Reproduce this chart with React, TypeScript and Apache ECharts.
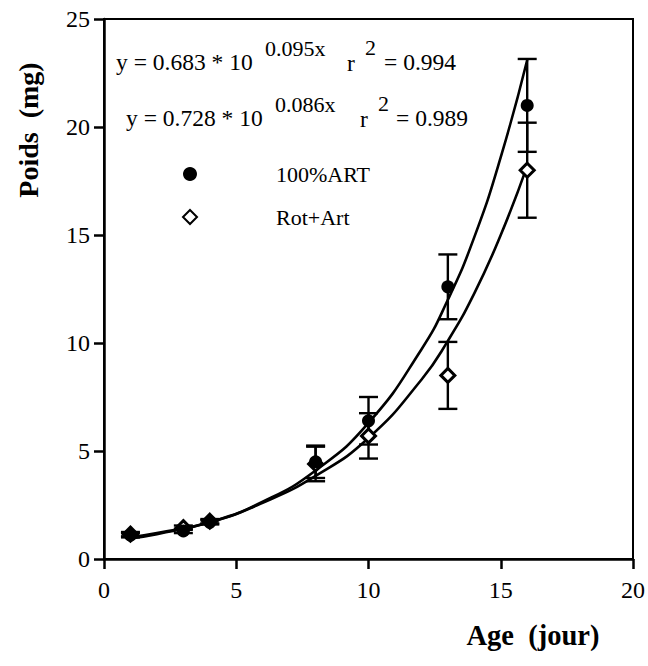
import React, { useEffect, useRef } from "react";
import * as echarts from "echarts";

// Measured points (Age in days, weight in mg)
const ages = [1, 3, 4, 8, 10, 13, 16];
const artMeans = [1.1, 1.3, 1.7, 4.5, 6.4, 12.6, 21.0];
const artErr = [0.1, 0.1, 0.1, 0.75, 1.1, 1.5, 2.15];
const rotMeans = [1.15, 1.45, 1.75, 4.4, 5.7, 8.5, 18.0];
const rotErr = [0.1, 0.1, 0.1, 0.8, 1.05, 1.55, 2.2];

// Fitted curves
const curveX = [1, 2, 4, 6, 8, 10, 12, 13, 14, 15, 16];
const artCurve = [0.95, 1.15, 1.7, 2.65, 4.1, 6.3, 9.7, 12.0, 14.9, 18.6, 23.1];
const rotCurve = [1.0, 1.2, 1.7, 2.6, 3.85, 5.6, 8.3, 10.1, 12.3, 15.0, 18.2];

const xTicks = [0, 5, 10, 15, 20];
const yTicks = [0, 5, 10, 15, 20, 25];

const SERIF = "Liberation Serif";

export default function App() {
  const ref = useRef<HTMLDivElement>(null);
  useEffect(() => {
    if (!ref.current) return;
    const chart = echarts.init(ref.current, null, { renderer: "svg" });
    const errData = (means: number[], errs: number[]) =>
      ages.map((a, i) => [a, means[i] - errs[i], means[i] + errs[i]]);
    const renderErr = (params: any, api: any) => {
      const x = api.value(0);
      const lo = api.coord([x, api.value(1)]);
      const hi = api.coord([x, api.value(2)]);
      const w = 9.5;
      const st = { stroke: "#000", lineWidth: 2.4 };
      return {
        type: "group",
        children: [
          { type: "line", shape: { x1: lo[0], y1: lo[1], x2: hi[0], y2: hi[1] }, style: st },
          { type: "line", shape: { x1: lo[0] - w, y1: lo[1], x2: lo[0] + w, y2: lo[1] }, style: st },
          { type: "line", shape: { x1: hi[0] - w, y1: hi[1], x2: hi[0] + w, y2: hi[1] }, style: st },
        ],
      };
    };
    const txt = (text: string, x: number, y: number, size: number) => ({
      type: "text",
      x,
      y,
      style: {
        text,
        fontSize: size,
        fontFamily: SERIF,
        fill: "#000",
        verticalAlign: "middle",
      },
    });
    chart.setOption({
      animation: false,
      grid: {
        left: 104,
        top: 19,
        width: 533,
        height: 540,
        show: true,
        borderColor: "#000",
        borderWidth: 2,
        backgroundColor: "transparent",
      },
      xAxis: {
        type: "value",
        min: xTicks[0],
        max: xTicks[xTicks.length - 1],
        interval: 5,
        axisLine: { onZero: false, lineStyle: { color: "#000", width: 2.5 } },
        axisTick: { length: 10, lineStyle: { color: "#000", width: 2.5 } },
        axisLabel: { fontSize: 24, fontFamily: SERIF, color: "#000", margin: 19 },
        splitLine: { show: false },
      },
      yAxis: {
        type: "value",
        min: yTicks[0],
        max: yTicks[yTicks.length - 1],
        interval: 5,
        axisLine: { onZero: false, lineStyle: { color: "#000", width: 2.5 } },
        axisTick: { length: 10, lineStyle: { color: "#000", width: 2.5 } },
        axisLabel: { fontSize: 24, fontFamily: SERIF, color: "#000", margin: 14 },
        splitLine: { show: false },
      },
      legend: {
        data: ["100%ART", "Rot+Art"],
        orient: "vertical",
        left: 177,
        top: 158,
        itemWidth: 14,
        itemHeight: 14,
        itemGap: 21,
        textStyle: {
          fontSize: 22,
          fontFamily: SERIF,
          color: "#000",
          lineHeight: 20,
          padding: [0, 0, 0, 74],
        },
      },
      graphic: [
        txt("y = 0.683 * 10", 116, 62, 23.5),
        txt("0.095x", 265, 48, 22),
        txt("r", 347, 63, 23.5),
        txt("2", 365, 47, 22),
        txt("= 0.994", 384, 62, 23.5),
        txt("y = 0.728 * 10", 126, 118, 23.5),
        txt("0.086x", 275, 104, 22),
        txt("r", 360, 119, 23.5),
        txt("2", 378, 103, 22),
        txt("= 0.989", 396, 118, 23.5),
        {
          type: "text",
          x: 28,
          y: 130,
          rotation: Math.PI / 2,
          style: {
            text: "Poids  (mg)",
            fontSize: 28,
            fontWeight: "bold",
            fontFamily: SERIF,
            fill: "#000",
            align: "center",
            verticalAlign: "middle",
          },
        },
        {
          type: "text",
          x: 533,
          y: 635,
          style: {
            text: "Age  (jour)",
            fontSize: 28.5,
            fontWeight: "bold",
            fontFamily: SERIF,
            fill: "#000",
            align: "center",
            verticalAlign: "middle",
          },
        },
      ],
      series: [
        {
          type: "custom",
          name: "errART",
          renderItem: renderErr,
          data: errData(artMeans, artErr),
          z: 1,
        },
        {
          type: "custom",
          name: "errRot",
          renderItem: renderErr,
          data: errData(rotMeans, rotErr),
          z: 1,
        },
        {
          type: "line",
          name: "fitART",
          data: curveX.map((x, i) => [x, artCurve[i]]),
          smooth: true,
          showSymbol: false,
          lineStyle: { color: "#000", width: 2.6 },
          z: 2,
        },
        {
          type: "line",
          name: "fitRot",
          data: curveX.map((x, i) => [x, rotCurve[i]]),
          smooth: true,
          showSymbol: false,
          lineStyle: { color: "#000", width: 2.6 },
          z: 2,
        },
        {
          type: "scatter",
          name: "100%ART",
          data: ages.map((a, i) => [a, artMeans[i]]),
          symbol: "circle",
          symbolSize: 13,
          itemStyle: { color: "#000", opacity: 1 },
          z: 4,
        },
        {
          type: "scatter",
          name: "Rot+Art",
          data: ages.map((a, i) => [a, rotMeans[i]]),
          symbol: "diamond",
          symbolSize: 14,
          itemStyle: { color: "#fff", borderColor: "#000", borderWidth: 3, opacity: 1 },
          z: 3,
        },
      ],
    });
    return () => chart.dispose();
  }, []);
  return (
    <div
      ref={ref}
      style={{ position: "absolute", left: 0, top: 0, width: 648, height: 666, background: "#fff" }}
    />
  );
}
